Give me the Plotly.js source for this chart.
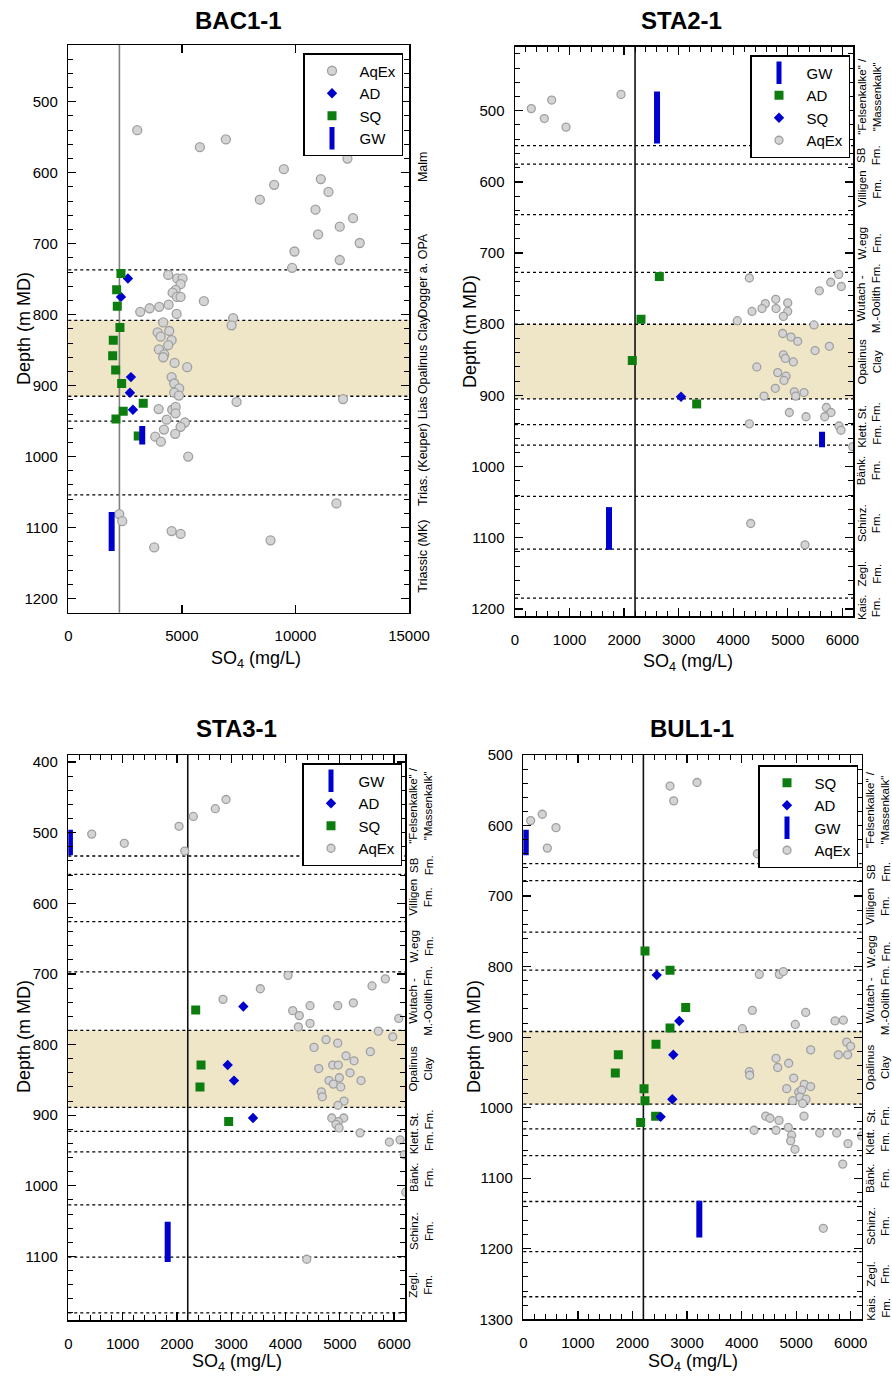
<!DOCTYPE html>
<html><head><meta charset="utf-8">
<script src="https://cdn.plot.ly/plotly-3.0.1.min.js"></script>
<style>html,body{margin:0;padding:0;background:#fff}#chart{width:892px;height:1376px}</style>
</head><body><div id="chart"></div>
<script>
// ---------------- DATA ----------------
// BAC1-1
const bacAqExX = [3035,6937,5793,12290,9489,11117,9063,11454,8433,10883,12537,11952,10999,12831,9958,11952,9855,4399,4795,5031,4944,4724,4592,4782,4944,5969,3167,3580,4003,4416,4768,7258,7188,4179,4443,3933,4065,4549,3990,4399,4223,4179,4680,5235,4549,4663,4883,4663,4870,7408,12097,3977,4575,4724,4724,4329,5134,4944,4210,4707,3827,4078,5279,11806,2243,2375,4549,4944,8904,3783];
const bacAqExD = [540,553,564,580,595,609,617,627,638,652,664,676,687,699,711,723,734,744,749,749,757,765,769,775,775,781,796,791,789,786,799,805,815,811,823,825,831,836,849,843,856,860,868,874,888,897,904,910,914,923,919,933,934,930,939,948,952,958,962,968,972,979,1000,1066,1081,1091,1105,1109,1118,1128];
const bacAdX = [2626,2318,2758,2714,2846];
const bacAdD = [749,775,888,910,934];
const bacSqX = [2318,2128,2156,2274,1980,1953,2085,2349,3299,2419,2098,3079];
const bacSqD = [742,765,788,818,836,858,878,897,925,936,947,971];
const bacGwX = [3255,1909];
const bacGwTop = [957,1078];
const bacGwBot = [983,1133];
const bacBounds = [737,808,915,950,1054];
const bacOpa = [808,915];
const bacRefLine = 2250;
const bacFmLabels = ["Malm","Dogger a. OPA","Opalinus Clay","Lias","Trias. (Keuper)","Triassic (MK)"];
const bacFmDepth = [592,745,857,932,1012,1141];

// STA2-1
const sta2AqExX = [299,537,672,935,1943,4295,5578,5786,5933,5981,4778,4588,4527,4344,4784,4998,4998,4918,4074,5480,4906,5059,5181,5499,5761,4918,4955,5102,4431,4815,4967,4930,4771,5119,5297,5144,4564,5706,5792,5676,5028,5334,4295,5938,5975,6190,4320,5315];
const sta2AqExD = [497,511,485,523,477,735,753,741,730,747,765,771,778,782,778,770,782,789,795,801,813,818,824,837,831,843,848,853,860,868,873,879,890,895,896,901,901,917,924,930,924,930,940,943,949,972,1080,1110];
const sta2AdX = [2645,2309,2150,3330];
const sta2AdD = [733,793,851,912];
const sta2SqX = [3043];
const sta2SqD = [902];
const sta2GwX = [2603,5627,1723];
const sta2GwTop = [473,951,1057];
const sta2GwBot = [546,973,1117];
const sta2Bounds = [549,575,646,727,800,905,941,970,1042,1116,1185];
const sta2Opa = [800,905];
const sta2RefLine = 2200;
const sta2FmLabels = ['"Felsenkalke" /<br>"Massenkalk"','SB<br>Fm.','Villigen<br>Fm.','W.egg<br>Fm.','Wutach -<br>M.-Oolith Fm.','Opalinus<br>Clay','St.<br>Fm.','Klett.<br>Fm.','Bänk.<br>Fm.','Schinz.<br>Fm.','Zegl.<br>Fm.','Kais.<br>Fm.'];
const sta2FmDepth = [480,562,610,686,763,852,923,955,1006,1079,1150,1197];

// STA3-1
const sta3AqExX = [431,1031,2039,2302,2707,2904,2144,4046,5838,5593,3536,2849,5249,4961,4451,4132,4254,6085,4236,4451,5709,5974,4746,4961,4525,5562,5114,5262,4869,4972,4611,5188,4991,5390,4801,4880,5016,4659,4678,5077,4967,4851,5072,4972,4930,4985,5372,5912,6109,6188,6214,4390];
const sta3AqExD = [502,515,491,477,466,453,526,702,707,717,721,736,741,745,745,752,759,763,775,770,781,789,793,798,804,810,816,823,829,829,834,840,847,851,851,856,860,867,874,880,886,904,904,909,913,918,925,938,935,956,1009,1104];
const sta3AdX = [3223,2935,3051,3401];
const sta3AdD = [746,829,851,904];
const sta3SqX = [2346,2444,2425,2953];
const sta3SqD = [751,829,860,909];
const sta3GwX = [30,1830];
const sta3GwTop = [496,1051];
const sta3GwBot = [532,1108];
const sta3Bounds = [533,559,626,697,780,889,923,952,1027,1101,1180];
const sta3Opa = [780,889];
const sta3RefLine = 2200;
const sta3FmLabels = ['"Felsenkalke" /<br>"Massenkalk"','SB<br>Fm.','Villigen<br>Fm.','W.egg<br>Fm.','Wutach -<br>M.-Oolith Fm.','Opalinus<br>Clay','St.<br>Fm.','Klett.<br>Fm.','Bänk.<br>Fm.','Schinz.<br>Fm.','Zegl.<br>Fm.'];
const sta3FmDepth = [462,546,592,661,738,834,906,937,989,1064,1140];

// BUL1-1
const bulAqExX = [135,348,599,440,2688,2755,3183,4288,4324,4691,4764,4196,5174,5711,5863,4983,4013,5925,5998,5265,5771,5943,4630,4862,4661,4141,4148,4954,4826,5046,5148,5265,5100,5069,5180,4936,5119,4441,4520,4685,5143,4227,4630,4855,4917,4899,4978,5430,5742,5949,6200,5852,5497];
const bulAqExD = [593,584,603,632,544,565,539,640,811,811,807,862,865,877,876,882,888,907,913,918,925,925,930,937,943,949,954,958,973,978,967,970,975,985,988,990,994,1012,1015,1018,1012,1032,1032,1028,1039,1047,1059,1036,1036,1051,1040,1080,1171];
const bulSqX = [2230,2688,2975,2688,2431,1741,1686,2212,2230,2425,2150];
const bulSqD = [778,805,858,887,910,925,951,973,990,1012,1021];
const bulAdX = [2444,2858,2748,2730,2517];
const bulAdD = [812,877,925,988,1013];
const bulGwX = [45,3225];
const bulGwTop = [606,1132];
const bulGwBot = [642,1184];
const bulBounds = [654,678,751,805,892,995,1030,1068,1133,1204,1268];
const bulOpa = [892,995];
const bulRefLine = 2200;
const bulFmLabels = ['"Felsenkalke" /<br>"Massenkalk"','SB<br>Fm.','Villigen<br>Fm.','W.egg<br>Fm.','Wutach -<br>M.-Oolith Fm.','Opalinus<br>Clay','St.<br>Fm.','Klett.<br>Fm.','Bänk.<br>Fm.','Schinz.<br>Fm.','Zegl.<br>Fm.','Kais.<br>Fm.'];
const bulFmDepth = [577,666,714,778,848,943,1012,1049,1100,1168,1236,1284];

const panelTitles = ["BAC1-1","STA2-1","STA3-1","BUL1-1"];

// ---------------- LAYOUT / STYLE ----------------
const W = 892, H = 1376;
const FONT = 'Arial, "Liberation Sans", sans-serif';
const BLUE = '#0000cc', GREEN = '#0e7d10';

function gwLine(xs, tops, bots){
  const x=[], y=[];
  xs.forEach((v,i)=>{ x.push(v,v,null); y.push(tops[i],bots[i],null); });
  return {x, y};
}

const panels = [
  { box:[68.3,409,45,612.7], xr:[0,15000], yr:[1220,420], xd:5000, xminor:null, circ:9,
    legendBox:[403,53], labelShift:14, labelSize:12.5, refColor:'#808080',
    series:[
      {name:'AqEx', kind:'aq', x:bacAqExX, y:bacAqExD},
      {name:'AD', kind:'dia', x:bacAdX, y:bacAdD},
      {name:'SQ', kind:'sq', x:bacSqX, y:bacSqD},
      {name:'GW', kind:'gw', x:bacGwX, top:bacGwTop, bot:bacGwBot}],
    bounds:bacBounds, opa:bacOpa, ref:bacRefLine, fm:bacFmLabels, fmd:bacFmDepth,
    ttl:[238,20], depthTitle:[24,329], soTitle:[256,659] },
  { box:[515,853.3,46.7,616], xr:[0,6200], yr:[1210,410], xd:1000, xminor:200, circ:8,
    legendBox:[850,55], labelShift:16, labelSize:11.5, refColor:'#111',
    series:[
      {name:'GW', kind:'gw', x:sta2GwX, top:sta2GwTop, bot:sta2GwBot},
      {name:'AD', kind:'sq', x:sta2AdX, y:sta2AdD},
      {name:'SQ', kind:'dia', x:sta2SqX, y:sta2SqD},
      {name:'AqEx', kind:'aq', x:sta2AqExX, y:sta2AqExD}],
    bounds:sta2Bounds, opa:sta2Opa, ref:sta2RefLine, fm:sta2FmLabels, fmd:sta2FmDepth,
    ttl:[681,20], depthTitle:[470,331], soTitle:[688,662] },
  { box:[68.3,405,755,1320], xr:[0,6200], yr:[1190,390], xd:1000, xminor:200, circ:8,
    legendBox:[402,763], labelShift:16, labelSize:11.5, refColor:'#111',
    series:[
      {name:'GW', kind:'gw', x:sta3GwX, top:sta3GwTop, bot:sta3GwBot},
      {name:'AD', kind:'dia', x:sta3AdX, y:sta3AdD},
      {name:'SQ', kind:'sq', x:sta3SqX, y:sta3SqD},
      {name:'AqEx', kind:'aq', x:sta3AqExX, y:sta3AqExD}],
    bounds:sta3Bounds, opa:sta3Opa, ref:sta3RefLine, fm:sta3FmLabels, fmd:sta3FmDepth,
    ttl:[236,728], depthTitle:[24,1037], soTitle:[237,1362] },
  { box:[523.3,861.7,755,1319.3], xr:[0,6200], yr:[1300,500], xd:1000, xminor:200, circ:8,
    legendBox:[858,765], labelShift:16, labelSize:11.5, refColor:'#111',
    series:[
      {name:'SQ', kind:'sq', x:bulSqX, y:bulSqD},
      {name:'AD', kind:'dia', x:bulAdX, y:bulAdD},
      {name:'GW', kind:'gw', x:bulGwX, top:bulGwTop, bot:bulGwBot},
      {name:'AqEx', kind:'aq', x:bulAqExX, y:bulAqExD}],
    bounds:bulBounds, opa:bulOpa, ref:bulRefLine, fm:bulFmLabels, fmd:bulFmDepth,
    ttl:[692,728], depthTitle:[474,1037], soTitle:[693,1362] }
];

const data = [], shapes = [], annotations = [];
const layout = {
  width:W, height:H, margin:{l:0,r:0,t:0,b:0},
  paper_bgcolor:'#fff', plot_bgcolor:'#fff',
  font:{family:FONT, color:'#000', size:15},
  showlegend:true
};

panels.forEach((p,i)=>{
  const sfx = i===0 ? '' : String(i+1);
  const xa = 'x'+sfx, ya = 'y'+sfx, lg = 'legend'+sfx;
  const [L,R,T,B] = p.box;
  layout['xaxis'+sfx] = {
    domain:[L/W, R/W], range:p.xr, anchor:ya, showgrid:false, zeroline:false,
    showline:true, linecolor:'#000', linewidth:1.5, mirror:'ticks',
    ticks:'inside', ticklen:8, tickwidth:1.3, tickcolor:'#000',
    tick0:0, dtick:p.xd, tickformat:'d', tickfont:{size:15, family:FONT}, ticklabelstandoff:9,
    minor: p.xminor ? {ticks:'inside', dtick:p.xminor, ticklen:5, tickwidth:1, tickcolor:'#000'} : undefined
  };
  layout['yaxis'+sfx] = {
    domain:[1-B/H, 1-T/H], range:p.yr, anchor:xa, showgrid:false, zeroline:false,
    showline:true, linecolor:'#000', linewidth:1.5, mirror:'ticks',
    ticks:'inside', ticklen:8, tickwidth:1.3, tickcolor:'#000',
    tick0:0, dtick:100, tickformat:'d', tickfont:{size:15, family:FONT}, ticklabelstandoff:6,
    minor:{ticks:'inside', dtick:20, ticklen:5, tickwidth:1, tickcolor:'#000'}
  };
  layout[lg] = {
    x:p.legendBox[0]/W, y:1-p.legendBox[1]/H, xanchor:'right', yanchor:'top',
    bgcolor:'#fff', bordercolor:'#000', borderwidth:1.5,
    font:{size:15, family:FONT}, traceorder:'normal', itemwidth:45, tracegroupgap:0
  };

  // background band and boundaries
  shapes.push({type:'rect', layer:'below', xref:xa+' domain', yref:ya, x0:0, x1:1,
    y0:p.opa[0], y1:p.opa[1], fillcolor:'#eee6c6', line:{width:0}});
  p.bounds.forEach(d=>{
    shapes.push({type:'line', layer:'below', xref:xa+' domain', yref:ya, x0:0, x1:1,
      y0:d, y1:d, line:{color:'#000', width:1.3, dash:'dot'}});
  });
  shapes.push({type:'line', layer:'below', xref:xa, yref:ya+' domain', x0:p.ref, x1:p.ref,
    y0:0, y1:1, line:{color:p.refColor, width:1.6}});

  // traces
  p.series.forEach(s=>{
    const base = {type:'scatter', xaxis:xa, yaxis:ya, legend:lg, name:s.name, cliponaxis:true, hoverinfo:'skip'};
    if (s.kind==='gw'){
      const g = gwLine(s.x, s.top, s.bot);
      data.push(Object.assign({}, base, {mode:'lines', x:g.x, y:g.y, showlegend:false,
        line:{color:BLUE, width:6}}));
      data.push(Object.assign({}, base, {mode:'markers', x:[null], y:[null], showlegend:true,
        marker:{symbol:'line-ns', size:16, line:{color:BLUE, width:5}}}));
    } else if (s.kind==='aq'){
      data.push(Object.assign({}, base, {mode:'markers', x:s.x, y:s.y,
        marker:{symbol:'circle', size:p.circ, color:'#d4d4d4', line:{color:'#a0a0a0', width:1.3}}}));
    } else if (s.kind==='sq'){
      data.push(Object.assign({}, base, {mode:'markers', x:s.x, y:s.y,
        marker:{symbol:'square', size:9, color:GREEN, line:{width:0}}}));
    } else {
      data.push(Object.assign({}, base, {mode:'markers', x:s.x, y:s.y,
        marker:{symbol:'diamond', size:8, color:BLUE, line:{width:0}}}));
    }
  });

  // formation labels
  p.fm.forEach((t,k)=>{
    annotations.push({xref:xa+' domain', yref:ya, x:1, y:p.fmd[k], xshift:p.labelShift,
      text:t, showarrow:false, textangle:-90, xanchor:'center', yanchor:'middle', align:'center',
      font:{size:p.labelSize, family:FONT}});
  });

  // titles
  annotations.push({xref:'paper', yref:'paper', x:p.ttl[0]/W, y:1-p.ttl[1]/H, text:'<b>'+panelTitles[i]+'</b>',
    showarrow:false, xanchor:'center', yanchor:'middle', font:{size:24, family:FONT}});
  annotations.push({xref:'paper', yref:'paper', x:p.depthTitle[0]/W, y:1-p.depthTitle[1]/H, text:'Depth (m MD)',
    showarrow:false, textangle:-90, xanchor:'center', yanchor:'middle', font:{size:18, family:FONT}});
  annotations.push({xref:'paper', yref:'paper', x:p.soTitle[0]/W, y:1-p.soTitle[1]/H, text:'SO<sub>4</sub> (mg/L)',
    showarrow:false, xanchor:'center', yanchor:'middle', font:{size:18, family:FONT}});
});

layout.shapes = shapes;
layout.annotations = annotations;

Plotly.newPlot('chart', data, layout, {displayModeBar:false, staticPlot:true});
</script>
</body></html>
